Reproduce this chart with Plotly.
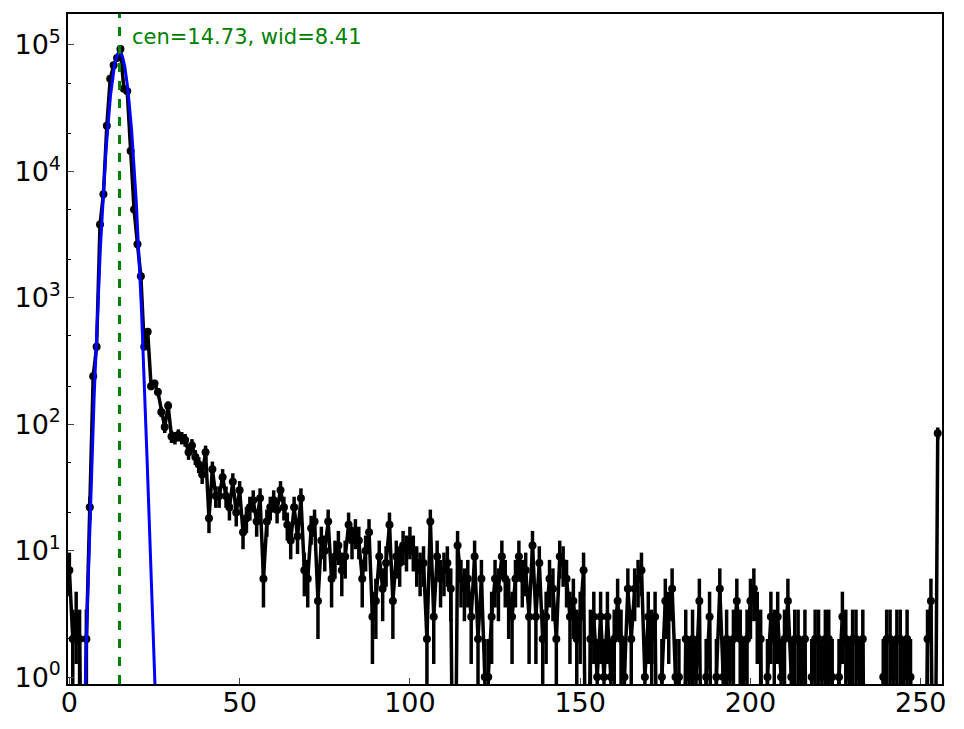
import numpy as np
import plotly.graph_objects as go

# histogram counts, bins 0..255
counts = [
    7, 2, 3, 2, 0, 2, 22, 240, 410, 3800,                 # 0-9
    6600, 23000, 54000, 69000, 79000, 93000, 45000, 43000, 14500, 5000,  # 10-19
    2650, 1480, 410, 540, 200, 210, 180, 125, 95, 140,    # 20-29
    80, 78, 82, 78, 75, 60, 68, 55, 48, 40,               # 30-39
    60, 18, 44, 27, 27, 38, 27, 22, 35, 20,               # 40-49
    30, 14, 18, 22, 25, 17, 26, 6, 17, 22,                # 50-59
    25, 21, 30, 22, 16, 12, 22, 13, 26, 7,                # 60-69
    6, 15, 17, 4, 12, 10, 17, 6, 9, 11,                   # 70-79
    7, 9, 16, 12, 14, 12, 6, 10, 14, 3,                   # 80-89
    4, 9, 5, 8, 16, 4, 9, 8, 11, 10,                      # 90-99
    12, 10, 8, 7, 8, 2, 17, 3, 9, 6,                      # 100-109
    7, 8, 5, 0, 11, 6, 5, 6, 3, 9,                        # 110-119
    2, 6, 1, 1, 3, 6, 5, 9, 6, 4,                         # 120-129
    3, 6, 9, 6, 7, 3, 11, 3, 8, 2,                        # 130-139
    3, 6, 5, 2, 9, 8, 6, 3, 4, 2,                         # 140-149
    3, 7, 0, 2, 3, 1, 3, 1, 3, 1,                         # 150-159
    2, 4, 2, 1, 5, 2, 5, 6, 7, 1,                         # 160-169
    3, 2, 3, 0, 1, 4, 3, 5, 1, 1,                         # 170-179
    0, 2, 1, 2, 1, 4, 0, 1, 3, 0,                         # 180-189
    1, 5, 1, 2, 1, 2, 4, 2, 1, 2,                         # 190-199
    4, 5, 3, 2, 0, 1, 3, 2, 3, 1,                         # 200-209
    2, 4, 1, 2, 2, 1, 2, 0, 1, 2,                         # 210-219
    2, 1, 2, 2, 1, 0, 1, 3, 2, 1,                         # 220-229
    2, 2, 1, 2, 0, 0, 0, 0, 0, 1,                         # 230-239
    2, 2, 1, 2, 2, 1, 2, 1, 0, 0,                         # 240-249
    0, 0, 2, 4, 0, 85,                                    # 250-255
]
bins = list(range(len(counts)))

# Gaussian fit parameters
fit_cen = 14.73
fit_wid = 8.41
fit_amp = 88000

tick_vals = [1, 10, 100, 1000, 10000, 100000]
tick_text = ["10<sup>0</sup>", "10<sup>1</sup>", "10<sup>2</sup>", "10<sup>3</sup>",
             "10<sup>4</sup>", "10<sup>5</sup>"]
x_ticks = [0, 50, 100, 150, 200, 250]

c = np.array(counts, dtype=float)
floor_val = 1e-2
y_plot = np.where(c > 0, c, floor_val)
err = np.sqrt(c)
err_minus = np.minimum(err, np.maximum(y_plot - floor_val, 0))

sigma = fit_wid / 4.0
xf = np.linspace(0, 40, 801)
yf = fit_amp * np.exp(-(xf - fit_cen) ** 2 / (2 * sigma ** 2))
yf = np.maximum(yf, floor_val)

fig = go.Figure()
fig.add_trace(go.Scatter(
    x=bins, y=y_plot, mode="lines+markers",
    line=dict(color="black", width=3.5),
    marker=dict(color="black", size=8),
    error_y=dict(type="data", array=err, arrayminus=err_minus,
                 color="black", thickness=3.5, width=0),
    showlegend=False, cliponaxis=True,
))
fig.add_trace(go.Scatter(
    x=xf, y=yf, mode="lines",
    line=dict(color="blue", width=3),
    showlegend=False,
))
fig.add_shape(type="line", x0=fit_cen, x1=fit_cen, y0=0, y1=1,
              xref="x", yref="paper",
              line=dict(color="green", width=3, dash="dash"))
fig.add_annotation(x=fit_cen, y=1, xref="x", yref="paper",
                   text=f"cen={fit_cen:.2f}, wid={fit_wid:.2f}",
                   showarrow=False, xanchor="left", yanchor="top",
                   xshift=10, yshift=-9,
                   font=dict(color="green", size=21, family="DejaVu Sans"))

fig.update_layout(
    width=956, height=721,
    margin=dict(l=60, r=22, t=6, b=45),
    plot_bgcolor="white", paper_bgcolor="white",
    font=dict(family="DejaVu Sans", color="black", size=27),
    xaxis=dict(range=[-0.4, 256.25], tickvals=x_ticks, ticks="inside",
               ticklen=6, tickwidth=1, showgrid=False, zeroline=False,
               showline=True, linecolor="black", linewidth=1.5, mirror=True,
               tickfont=dict(size=27), automargin=False,
               ticklabelstandoff=-6),
    yaxis=dict(type="log", range=[-0.055, 5.245], tickvals=tick_vals,
               ticktext=tick_text, ticks="inside", ticklen=6, tickwidth=1,
               showgrid=False, zeroline=False, showline=True,
               linecolor="black", linewidth=1.5, mirror=True,
               tickfont=dict(size=27), automargin=False,
               minor=dict(ticks="inside", ticklen=3, tickcolor="black",
                          showgrid=False)),
)

fig.write_html("out.html")
